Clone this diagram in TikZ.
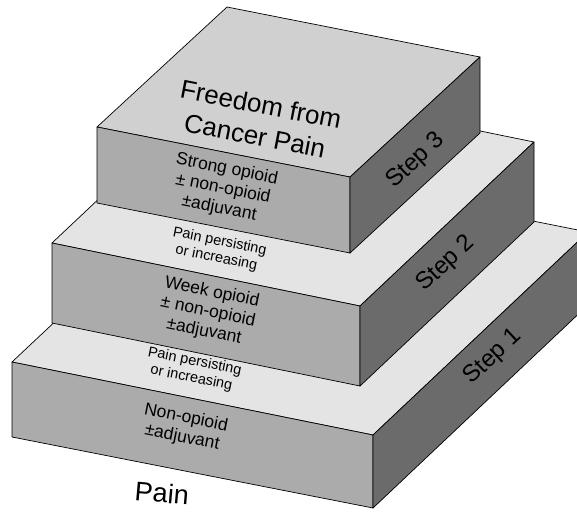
\documentclass[tikz,border=0pt]{standalone}
\usepackage{fontspec}
\setmainfont{Liberation Sans}
\definecolor{toptop}{HTML}{D0D0D0}
\definecolor{stripc}{HTML}{E4E4E4}
\definecolor{frontc}{HTML}{ABABAB}
\definecolor{sidec}{HTML}{6B6B6B}
\begin{document}
\begin{tikzpicture}[x=1pt,y=1pt,
  face/.style={draw=black,line width=0.7pt,line join=round},
  topface/.style={face,fill=stripc},
  frontface/.style={face,fill=frontc},
  sideface/.style={face,fill=sidec},
  bigtext/.style={inner sep=0pt,align=center,font=\fontsize{26}{32}\selectfont},
  fronttext/.style={inner sep=0pt,align=center,font=\fontsize{17.5}{20}\selectfont},
  striptext/.style={inner sep=0pt,align=center,font=\fontsize{14.5}{17}\selectfont},
  steptext/.style={inner sep=0pt,font=\fontsize{24}{28}\selectfont,rotate=43},
  labeltext/.style={inner sep=0pt,font=\fontsize{27}{30}\selectfont}]
\useasboundingbox (0,0) rectangle (577,-513);
\fill[white] (0,0) rectangle (577,-513);
\clip (0,0) rectangle (577,-513);
% bottom box
\coordinate (bFL) at (12,-362);  \coordinate (bFR) at (373,-435);
\coordinate (bBR) at (588,-232); \coordinate (bBL) at (227,-160);
\coordinate (bFLd) at (12,-437); \coordinate (bFRd) at (373,-508);
\coordinate (bBRd) at (588,-305);
% middle box
\coordinate (mFL) at (52,-243);  \coordinate (mFR) at (360,-306);
\coordinate (mBR) at (534,-142); \coordinate (mBL) at (226,-79);
\coordinate (mFLd) at (52,-323); \coordinate (mFRd) at (360,-386);
\coordinate (mBRd) at (534,-222);
% top box
\coordinate (tFL) at (97,-127);  \coordinate (tFR) at (350,-177);
\coordinate (tBR) at (480,-57);  \coordinate (tBL) at (227,-7);
\coordinate (tFLd) at (97,-203); \coordinate (tFRd) at (350,-253);
\coordinate (tBRd) at (480,-133);
% faces, back to front
\path[topface]   (bFL) -- (bFR) -- (bBR) -- (bBL) -- cycle;
\path[frontface] (bFL) -- (bFR) -- (bFRd) -- (bFLd) -- cycle;
\path[sideface]  (bFR) -- (bBR) -- (bBRd) -- (bFRd) -- cycle;
\path[topface]   (mFL) -- (mFR) -- (mBR) -- (mBL) -- cycle;
\path[frontface] (mFL) -- (mFR) -- (mFRd) -- (mFLd) -- cycle;
\path[sideface]  (mFR) -- (mBR) -- (mBRd) -- (mFRd) -- cycle;
\path[topface,fill=toptop] (tFL) -- (tFR) -- (tBR) -- (tBL) -- cycle;
\path[frontface] (tFL) -- (tFR) -- (tFRd) -- (tFLd) -- cycle;
\path[sideface]  (tFR) -- (tBR) -- (tBRd) -- (tFRd) -- cycle;
% texts
\node[bigtext,rotate=-11] (freedom) at (258,-120) {Freedom from\\Cancer Pain};
\node[fronttext,rotate=-11.3] (strong) at (223,-189) {Strong opioid\\± non-opioid\\±adjuvant};
\node[striptext,rotate=-11.3] (persist2) at (218,-250) {Pain persisting\\or increasing};
\node[fronttext,rotate=-11.5] (weak) at (208,-312) {Week opioid\\± non-opioid\\±adjuvant};
\node[striptext,rotate=-11.3] (persist1) at (193,-370) {Pain persisting\\or increasing};
\node[fronttext,rotate=-11.3] (nonop) at (184,-428) {Non-opioid\\±adjuvant};
\node[steptext] (step3) at (416,-161) {Step 3};
\node[steptext] (step2) at (446,-264) {Step 2};
\node[steptext] (step1) at (493,-357) {Step 1};
\node[labeltext,rotate=-5] (pain) at (162,-493) {Pain};
\end{tikzpicture}
\end{document}
